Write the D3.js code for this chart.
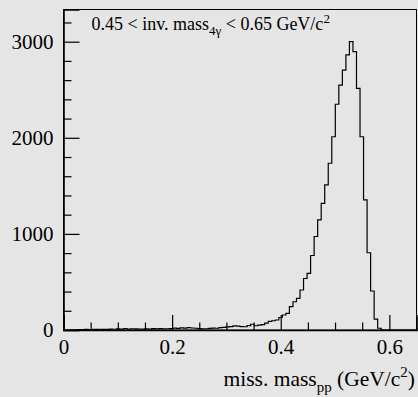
<!DOCTYPE html>
<html>
<head>
<meta charset="utf-8">
<script src="https://cdn.jsdelivr.net/npm/d3@7"></script>
<style>
body { margin: 0; background: #e5e5e5; }
text { font-family: "Liberation Serif", "Times New Roman", serif; fill: #000; }
</style>
</head>
<body>
<script>
var w = 418;
var h = 397;

// histogram definition: 100 bins between 0 and 0.65
var xLow = 0;
var xHigh = 0.65;
var nBins = 100;
var yTop = 3335;

var counts = [
    0, 0, 0, 0, 4, 5, 6, 5, 7, 6,
    8, 7, 6, 9, 8, 12, 10, 14, 9, 13,
    11, 10, 9, 11, 10, 14, 12, 15, 11, 13,
    14, 19, 17, 22, 20, 24, 21, 18, 14, 11,
    13, 16, 19, 18, 25, 28, 33, 36, 42, 40,
    36, 34, 46, 60, 44, 50, 55, 72, 90, 96,
    104, 130, 156, 174, 243, 294, 330, 416, 536, 590,
    775, 973, 1145, 1318, 1510, 1735, 2011, 2349, 2549, 2705,
    2862, 3000, 2896, 2515, 2011, 1353, 804, 406, 114, 18,
    0, 0, 0, 0, 0, 0, 0, 0, 0, 0
];

var xTickValues = [0, 0.2, 0.4, 0.6];
var xTickLabels = ["0", "0.2", "0.4", "0.6"];
var yTickValues = [0, 1000, 2000, 3000];
var yTickLabels = ["0", "1000", "2000", "3000"];

var padL = 63.5, padR = 416.5, padT = 9.5, padB = 330;

var x = d3.scaleLinear().domain([xLow, xHigh]).range([padL, padR]);
var y = d3.scaleLinear().domain([0, yTop]).range([padB, padT]);

var svg = d3.select("body")
    .append("svg")
    .attr("width", w)
    .attr("height", h);

svg.append("rect")
    .attr("width", w)
    .attr("height", h)
    .attr("fill", "#e5e5e5");

// frame
svg.append("rect")
    .attr("x", padL)
    .attr("y", padT)
    .attr("width", padR - padL)
    .attr("height", padB - padT)
    .attr("fill", "none")
    .attr("stroke", "#000")
    .attr("stroke-width", 1);

// histogram outline
var binWidth = (xHigh - xLow) / nBins;
var pts = [];
counts.forEach(function(c, i) {
    pts.push([xLow + i * binWidth, c]);
    pts.push([xLow + (i + 1) * binWidth, c]);
});

var line = d3.line()
    .x(function(d) { return x(d[0]); })
    .y(function(d) { return y(d[1]); });

svg.append("path")
    .datum(pts)
    .attr("d", line)
    .attr("fill", "none")
    .attr("stroke", "#000")
    .attr("stroke-width", 1.2);

// x axis
var xMinor = d3.range(0.05, 0.65, 0.05).filter(function(v) {
    return Math.abs(v / 0.2 - Math.round(v / 0.2)) > 1e-6;
});

svg.append("g")
    .attr("transform", "translate(0," + padB + ")")
    .call(d3.axisBottom(x)
        .tickValues(xTickValues)
        .tickFormat(function(d, i) { return xTickLabels[i]; })
        .tickSize(-15)
        .tickPadding(9));

svg.append("g")
    .attr("transform", "translate(0," + padB + ")")
    .call(d3.axisBottom(x)
        .tickValues(xMinor)
        .tickFormat("")
        .tickSize(-7.5))
    .select(".domain").remove();

// y axis
var yMinor = d3.range(200, 3300, 200).filter(function(v) { return v % 1000 != 0; });

svg.append("g")
    .attr("transform", "translate(" + padL + ",0)")
    .call(d3.axisLeft(y)
        .tickValues(yTickValues)
        .tickFormat(function(d, i) { return yTickLabels[i]; })
        .tickSize(-16)
        .tickPadding(10));

svg.append("g")
    .attr("transform", "translate(" + padL + ",0)")
    .call(d3.axisLeft(y)
        .tickValues(yMinor)
        .tickFormat("")
        .tickSize(-8))
    .select(".domain").remove();

svg.selectAll(".domain").attr("stroke-width", 1.6);
svg.selectAll(".tick line").attr("stroke-width", 1.2);
svg.selectAll(".tick text")
    .attr("font-family", "Liberation Serif, Times New Roman, serif")
    .attr("font-size", 21);

// x title
var title = svg.append("text")
    .attr("x", 415)
    .attr("y", 386)
    .attr("text-anchor", "end")
    .attr("font-size", 21.5);
title.append("tspan").text("miss. mass");
title.append("tspan").attr("font-size", 15).attr("dy", 6).text("pp");
title.append("tspan").attr("dy", -6).text(" (GeV/c");
title.append("tspan").attr("font-size", 15).attr("dy", -9).text("2");
title.append("tspan").attr("dy", 9).text(")");

// annotation
var note = svg.append("text")
    .attr("x", 91.5)
    .attr("y", 29.5)
    .attr("font-size", 18);
note.append("tspan").text("0.45 < inv. mass");
note.append("tspan").attr("font-size", 13).attr("dy", 5).text("4γ");
note.append("tspan").attr("dy", -5).text(" < 0.65 GeV/c");
note.append("tspan").attr("font-size", 13).attr("dy", -7).text("2");
</script>
</body>
</html>
